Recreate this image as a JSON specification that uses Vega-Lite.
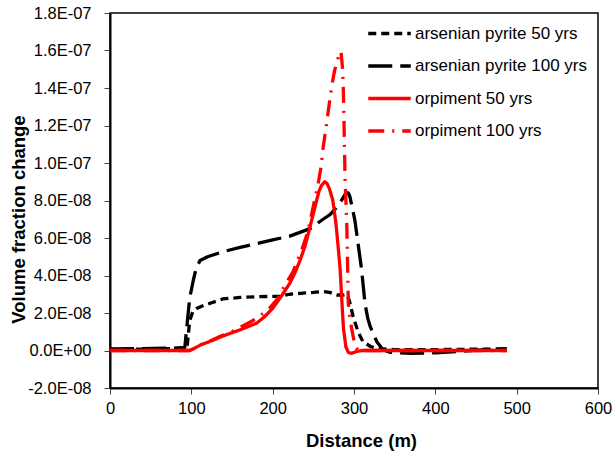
{
  "$schema": "https://vega.github.io/schema/vega-lite/v6.json",
  "width": 488,
  "height": 375,
  "autosize": {"type": "none"},
  "padding": {"left": 110, "top": 13, "right": 15, "bottom": 70},
  "background": "white",
  "config": {
    "font": "Liberation Sans",
    "view": {"stroke": "black", "strokeWidth": 1.5},
    "axis": {"grid": false, "labelFlush": false, "domainColor": "black", "domainWidth": 2, "tickColor": "#444", "tickWidth": 1, "tickSize": 6, "labelFont": "Liberation Sans", "labelFontSize": 16.5, "labelColor": "black", "titleFont": "Liberation Sans", "titleFontSize": 18.5, "titleFontWeight": "bold", "titleColor": "black"},
    "legend": {"labelFont": "Liberation Sans", "labelFontSize": 17, "labelColor": "black", "labelLimit": 0}
  },
  "data": {"values": [
    {"s":"arsenian pyrite 50 yrs","d":0,"v":0.5e-9},{"s":"arsenian pyrite 50 yrs","d":40,"v":0.7e-9},{"s":"arsenian pyrite 50 yrs","d":80,"v":1e-9},{"s":"arsenian pyrite 50 yrs","d":92,"v":1.5e-9},{"s":"arsenian pyrite 50 yrs","d":95,"v":3e-9},{"s":"arsenian pyrite 50 yrs","d":98,"v":16e-9},{"s":"arsenian pyrite 50 yrs","d":102,"v":21e-9},{"s":"arsenian pyrite 50 yrs","d":107,"v":22.5e-9},{"s":"arsenian pyrite 50 yrs","d":115,"v":24e-9},{"s":"arsenian pyrite 50 yrs","d":125,"v":25.5e-9},{"s":"arsenian pyrite 50 yrs","d":139,"v":27.5e-9},{"s":"arsenian pyrite 50 yrs","d":160,"v":28.3e-9},{"s":"arsenian pyrite 50 yrs","d":180,"v":28.7e-9},{"s":"arsenian pyrite 50 yrs","d":209,"v":28.9e-9},{"s":"arsenian pyrite 50 yrs","d":221,"v":30e-9},{"s":"arsenian pyrite 50 yrs","d":234,"v":30.5e-9},{"s":"arsenian pyrite 50 yrs","d":250,"v":31e-9},{"s":"arsenian pyrite 50 yrs","d":262,"v":31.5e-9},{"s":"arsenian pyrite 50 yrs","d":270,"v":31e-9},{"s":"arsenian pyrite 50 yrs","d":279,"v":29.6e-9},{"s":"arsenian pyrite 50 yrs","d":287,"v":29.6e-9},{"s":"arsenian pyrite 50 yrs","d":291,"v":30e-9},{"s":"arsenian pyrite 50 yrs","d":294,"v":27e-9},{"s":"arsenian pyrite 50 yrs","d":299,"v":18e-9},{"s":"arsenian pyrite 50 yrs","d":305,"v":10e-9},{"s":"arsenian pyrite 50 yrs","d":311,"v":4.7e-9},{"s":"arsenian pyrite 50 yrs","d":321,"v":2e-9},{"s":"arsenian pyrite 50 yrs","d":330,"v":1e-9},{"s":"arsenian pyrite 50 yrs","d":350,"v":0.5e-9},{"s":"arsenian pyrite 50 yrs","d":400,"v":0.5e-9},{"s":"arsenian pyrite 50 yrs","d":450,"v":0.7e-9},{"s":"arsenian pyrite 50 yrs","d":488,"v":0.8e-9},
    {"s":"arsenian pyrite 100 yrs","d":0,"v":0.8e-9},{"s":"arsenian pyrite 100 yrs","d":40,"v":1e-9},{"s":"arsenian pyrite 100 yrs","d":80,"v":1.3e-9},{"s":"arsenian pyrite 100 yrs","d":92,"v":1.7e-9},{"s":"arsenian pyrite 100 yrs","d":95,"v":15e-9},{"s":"arsenian pyrite 100 yrs","d":98,"v":28e-9},{"s":"arsenian pyrite 100 yrs","d":102.5,"v":37.6e-9},{"s":"arsenian pyrite 100 yrs","d":106,"v":44e-9},{"s":"arsenian pyrite 100 yrs","d":110.7,"v":48e-9},{"s":"arsenian pyrite 100 yrs","d":120,"v":50e-9},{"s":"arsenian pyrite 100 yrs","d":139,"v":52.7e-9},{"s":"arsenian pyrite 100 yrs","d":160,"v":55e-9},{"s":"arsenian pyrite 100 yrs","d":180,"v":57e-9},{"s":"arsenian pyrite 100 yrs","d":200,"v":59e-9},{"s":"arsenian pyrite 100 yrs","d":221,"v":61e-9},{"s":"arsenian pyrite 100 yrs","d":246,"v":65e-9},{"s":"arsenian pyrite 100 yrs","d":262,"v":70e-9},{"s":"arsenian pyrite 100 yrs","d":270.5,"v":72.5e-9},{"s":"arsenian pyrite 100 yrs","d":280,"v":77e-9},{"s":"arsenian pyrite 100 yrs","d":286,"v":81e-9},{"s":"arsenian pyrite 100 yrs","d":290,"v":84e-9},{"s":"arsenian pyrite 100 yrs","d":293,"v":84e-9},{"s":"arsenian pyrite 100 yrs","d":295,"v":82e-9},{"s":"arsenian pyrite 100 yrs","d":301,"v":69.6e-9},{"s":"arsenian pyrite 100 yrs","d":305,"v":57e-9},{"s":"arsenian pyrite 100 yrs","d":309.4,"v":43e-9},{"s":"arsenian pyrite 100 yrs","d":313.5,"v":25e-9},{"s":"arsenian pyrite 100 yrs","d":317,"v":17e-9},{"s":"arsenian pyrite 100 yrs","d":320,"v":12.7e-9},{"s":"arsenian pyrite 100 yrs","d":328,"v":4.7e-9},{"s":"arsenian pyrite 100 yrs","d":336,"v":0.3e-9},{"s":"arsenian pyrite 100 yrs","d":345,"v":-1e-9},{"s":"arsenian pyrite 100 yrs","d":370,"v":-1.5e-9},{"s":"arsenian pyrite 100 yrs","d":400,"v":-1.2e-9},{"s":"arsenian pyrite 100 yrs","d":430,"v":-0.5e-9},{"s":"arsenian pyrite 100 yrs","d":460,"v":0.5e-9},{"s":"arsenian pyrite 100 yrs","d":488,"v":1e-9},
    {"s":"orpiment 50 yrs","d":0,"v":0},{"s":"orpiment 50 yrs","d":50,"v":0},{"s":"orpiment 50 yrs","d":98,"v":0},{"s":"orpiment 50 yrs","d":104,"v":1.2e-9},{"s":"orpiment 50 yrs","d":111,"v":2.9e-9},{"s":"orpiment 50 yrs","d":125,"v":5.2e-9},{"s":"orpiment 50 yrs","d":137,"v":7.4e-9},{"s":"orpiment 50 yrs","d":150,"v":9.5e-9},{"s":"orpiment 50 yrs","d":160,"v":11e-9},{"s":"orpiment 50 yrs","d":170,"v":12.8e-9},{"s":"orpiment 50 yrs","d":180,"v":14.5e-9},{"s":"orpiment 50 yrs","d":190,"v":18e-9},{"s":"orpiment 50 yrs","d":200,"v":22.5e-9},{"s":"orpiment 50 yrs","d":210,"v":28.5e-9},{"s":"orpiment 50 yrs","d":221,"v":35.8e-9},{"s":"orpiment 50 yrs","d":228,"v":42e-9},{"s":"orpiment 50 yrs","d":234,"v":48.5e-9},{"s":"orpiment 50 yrs","d":240,"v":56e-9},{"s":"orpiment 50 yrs","d":246,"v":66e-9},{"s":"orpiment 50 yrs","d":250,"v":73e-9},{"s":"orpiment 50 yrs","d":254,"v":80e-9},{"s":"orpiment 50 yrs","d":257,"v":85e-9},{"s":"orpiment 50 yrs","d":260,"v":88e-9},{"s":"orpiment 50 yrs","d":264,"v":90e-9},{"s":"orpiment 50 yrs","d":267,"v":89e-9},{"s":"orpiment 50 yrs","d":270,"v":86e-9},{"s":"orpiment 50 yrs","d":274,"v":80e-9},{"s":"orpiment 50 yrs","d":278,"v":67e-9},{"s":"orpiment 50 yrs","d":281,"v":53e-9},{"s":"orpiment 50 yrs","d":283,"v":43e-9},{"s":"orpiment 50 yrs","d":285,"v":27e-9},{"s":"orpiment 50 yrs","d":287,"v":12e-9},{"s":"orpiment 50 yrs","d":290,"v":2e-9},{"s":"orpiment 50 yrs","d":293,"v":-1e-9},{"s":"orpiment 50 yrs","d":297,"v":-1.5e-9},{"s":"orpiment 50 yrs","d":303,"v":-0.5e-9},{"s":"orpiment 50 yrs","d":310,"v":0},{"s":"orpiment 50 yrs","d":400,"v":0},{"s":"orpiment 50 yrs","d":488,"v":0},
    {"s":"orpiment 100 yrs","d":0,"v":0},{"s":"orpiment 100 yrs","d":50,"v":0},{"s":"orpiment 100 yrs","d":98,"v":0},{"s":"orpiment 100 yrs","d":104,"v":1.2e-9},{"s":"orpiment 100 yrs","d":111,"v":3e-9},{"s":"orpiment 100 yrs","d":125,"v":5.5e-9},{"s":"orpiment 100 yrs","d":137,"v":7.8e-9},{"s":"orpiment 100 yrs","d":150,"v":10e-9},{"s":"orpiment 100 yrs","d":165,"v":13.5e-9},{"s":"orpiment 100 yrs","d":180,"v":17e-9},{"s":"orpiment 100 yrs","d":195,"v":22e-9},{"s":"orpiment 100 yrs","d":205,"v":27e-9},{"s":"orpiment 100 yrs","d":214,"v":34e-9},{"s":"orpiment 100 yrs","d":225,"v":42e-9},{"s":"orpiment 100 yrs","d":236,"v":54e-9},{"s":"orpiment 100 yrs","d":243,"v":63e-9},{"s":"orpiment 100 yrs","d":249,"v":75e-9},{"s":"orpiment 100 yrs","d":253,"v":83e-9},{"s":"orpiment 100 yrs","d":256,"v":89e-9},{"s":"orpiment 100 yrs","d":259.5,"v":98e-9},{"s":"orpiment 100 yrs","d":262,"v":108e-9},{"s":"orpiment 100 yrs","d":266,"v":120e-9},{"s":"orpiment 100 yrs","d":270,"v":133e-9},{"s":"orpiment 100 yrs","d":273,"v":142e-9},{"s":"orpiment 100 yrs","d":276,"v":149e-9},{"s":"orpiment 100 yrs","d":279,"v":154e-9},{"s":"orpiment 100 yrs","d":282,"v":158e-9},{"s":"orpiment 100 yrs","d":284,"v":159.5e-9},{"s":"orpiment 100 yrs","d":286,"v":150e-9},{"s":"orpiment 100 yrs","d":287,"v":137e-9},{"s":"orpiment 100 yrs","d":288,"v":115e-9},{"s":"orpiment 100 yrs","d":289,"v":92e-9},{"s":"orpiment 100 yrs","d":290,"v":80e-9},{"s":"orpiment 100 yrs","d":291,"v":70e-9},{"s":"orpiment 100 yrs","d":292,"v":48e-9},{"s":"orpiment 100 yrs","d":293,"v":25e-9},{"s":"orpiment 100 yrs","d":295,"v":17e-9},{"s":"orpiment 100 yrs","d":297,"v":12e-9},{"s":"orpiment 100 yrs","d":301,"v":3e-9},{"s":"orpiment 100 yrs","d":305,"v":0},{"s":"orpiment 100 yrs","d":400,"v":0},{"s":"orpiment 100 yrs","d":488,"v":0}
  ]},
  "mark": {"type": "line", "strokeWidth": 3.3, "strokeJoin": "round"},
  "encoding": {
    "x": {"field": "d", "type": "quantitative", "scale": {"domain": [0, 600], "nice": false},
      "axis": {"title": "Distance (m)", "values": [0,100,200,300,400,500,600], "labelPadding": 6, "titleX": 251, "titleY": 52, "titleBaseline": "middle", "titleAlign": "center"}},
    "y": {"field": "v", "type": "quantitative", "scale": {"domain": [-2e-8, 1.8e-7], "nice": false, "zero": false},
      "axis": {"title": "Volume fraction change", "values": [-2e-8,0,2e-8,4e-8,6e-8,8e-8,1e-7,1.2e-7,1.4e-7,1.6e-7,1.8e-7], "labelPadding": 13,
        "labelExpr": "datum.value == 0 ? '0.0E+00' : replace(replace(format(datum.value, '.1e'), 'e-', 'E-0'), '\u2212', '-')",
        "titleX": -92, "titleY": 206, "titleBaseline": "middle", "titleAlign": "center", "titleAngle": 270}},
    "color": {"field": "s", "type": "nominal",
      "scale": {"domain": ["arsenian pyrite 50 yrs","arsenian pyrite 100 yrs","orpiment 50 yrs","orpiment 100 yrs"], "range": ["#000000","#000000","#FF0000","#FF0000"]},
      "legend": {"title": null, "orient": "none", "legendX": 269, "legendY": 10, "padding": 0, "symbolType": "M-2.5,0H2.5", "symbolSize": 289, "symbolStrokeWidth": 3.3, "labelOffset": 15, "rowPadding": 13.5, "labelLimit": 0}},
    "strokeDash": {"field": "s", "type": "nominal",
      "scale": {"domain": ["arsenian pyrite 50 yrs","arsenian pyrite 100 yrs","orpiment 50 yrs","orpiment 100 yrs"], "range": [[8,5],[24,8],[1,0],[16,8,2,8]]},
      "legend": {"title": null, "orient": "none", "legendX": 269, "legendY": 10, "padding": 0, "symbolType": "M-2.5,0H2.5", "symbolSize": 289, "symbolStrokeWidth": 3.3, "labelOffset": 15, "rowPadding": 13.5, "labelLimit": 0}}
  }
}
